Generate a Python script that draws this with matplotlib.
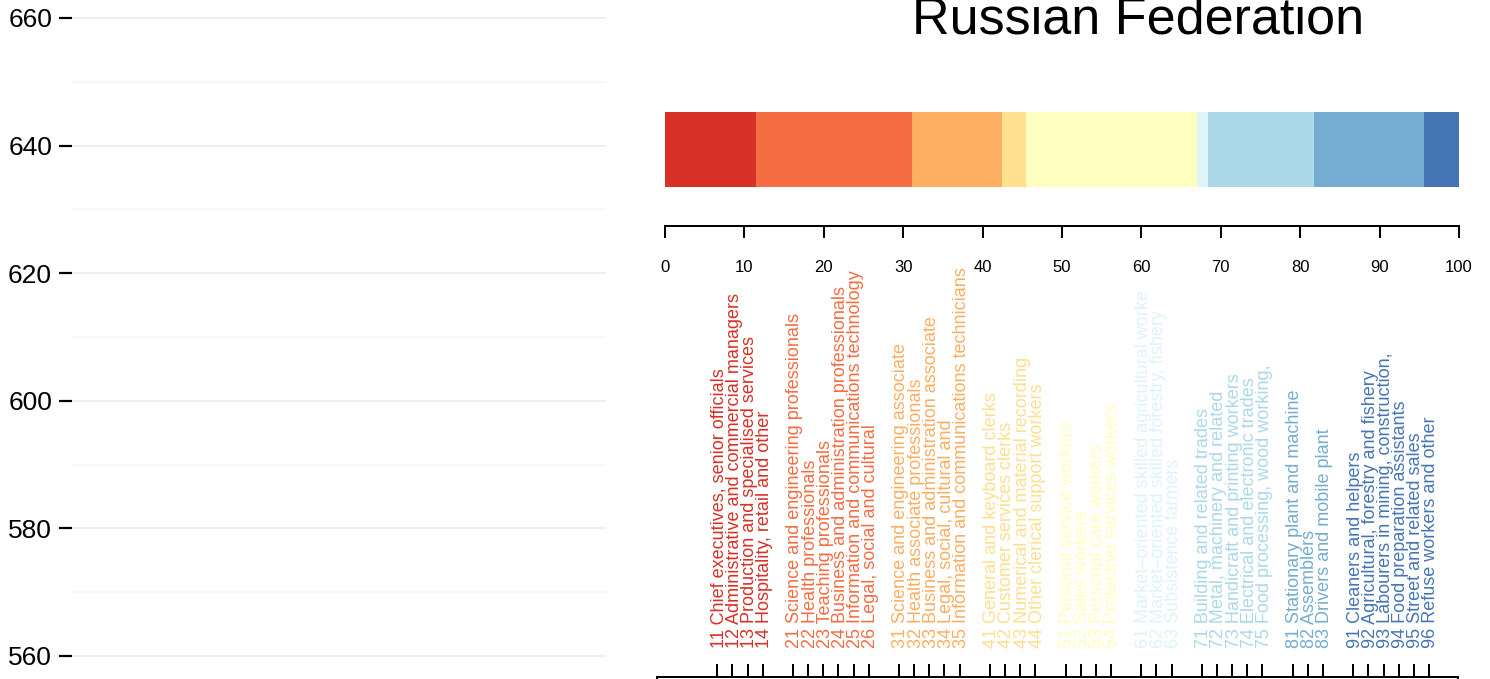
"""
Occupation structure bar for one country, with ISCO sub-major group labels
"""
import matplotlib
matplotlib.use('Agg')
import matplotlib.pyplot as plt
from matplotlib.transforms import blended_transform_factory
import numpy as np

plt.rcParams['font.family'] = ['Liberation Sans', 'DejaVu Sans']

W, H = 1490, 679

# --- data ---
country = 'Russian Federation'
left_ticks = [560, 580, 600, 620, 640, 660]
left_minor = [570, 590, 610, 630, 650]
pct_ticks = [0, 10, 20, 30, 40, 50, 60, 70, 80, 90, 100]

major_groups = [1, 2, 3, 4, 5, 6, 7, 8, 9]
group_share = [11.5, 19.6, 11.3, 3.1, 21.5, 1.4, 13.3, 13.9, 4.4]
group_colors = ['#D73027', '#F46D43', '#FDAE61', '#FEE090', '#FFFFBF',
                '#E0F3F8', '#ABD9E9', '#74ADD1', '#4575B4']

sub_codes = [11, 12, 13, 14,
             21, 22, 23, 24, 25, 26,
             31, 32, 33, 34, 35,
             41, 42, 43, 44,
             51, 52, 53, 54,
             61, 62, 63,
             71, 72, 73, 74, 75,
             81, 82, 83,
             91, 92, 93, 94, 95, 96]
sub_labels = [
    'Chief executives, senior officials',
    'Administrative and commercial managers',
    'Production and specialised services',
    'Hospitality, retail and other',
    'Science and engineering professionals',
    'Health professionals',
    'Teaching professionals',
    'Business and administration professionals',
    'Information and communications technology',
    'Legal, social and cultural',
    'Science and engineering associate',
    'Health associate professionals',
    'Business and administration associate',
    'Legal, social, cultural and',
    'Information and communications technicians',
    'General and keyboard clerks',
    'Customer services clerks',
    'Numerical and material recording',
    'Other clerical support workers',
    'Personal service workers',
    'Sales workers',
    'Personal care workers',
    'Protective services workers',
    'Market\u2013oriented skilled agricultural worke',
    'Market\u2013oriented skilled forestry, fishery',
    'Subsistence farmers',
    'Building and related trades',
    'Metal, machinery and related',
    'Handicraft and printing workers',
    'Electrical and electronic trades',
    'Food processing, wood working,',
    'Stationary plant and machine',
    'Assemblers',
    'Drivers and mobile plant',
    'Cleaners and helpers',
    'Agricultural, forestry and fishery',
    'Labourers in mining, construction,',
    'Food preparation assistants',
    'Street and related sales',
    'Refuse workers and other',
]


def fx(px):
    return px / W


def fy(py):
    return 1 - py / H


PT = 72 / 100  # points per pixel at dpi 100

fig = plt.figure(figsize=(W / 100, H / 100), dpi=100)

# --- left panel: empty score axis with grid ---
axl = fig.add_axes([fx(72), 0, fx(606) - fx(72), 1])
axl.set_xlim(0, 1)
axl.set_ylim(556.39, 662.82)
axl.set_yticks(left_ticks)
axl.set_yticks(left_minor, minor=True)
axl.set_xticks([])
for s in axl.spines.values():
    s.set_visible(False)
axl.grid(which='major', axis='y', color='#EBEBEB', lw=1.1)
axl.grid(which='minor', axis='y', color='#F7F7F7', lw=1.6)
axl.tick_params(axis='y', which='major', length=13 * PT, width=2.2 * PT,
                pad=7 * PT, labelsize=19, color='black')
axl.tick_params(axis='y', which='minor', length=0)

# --- stacked bar of major groups ---
axb = fig.add_axes([fx(665), fy(226), fx(1459) - fx(665), fy(112) - fy(226)])
lefts = np.concatenate([[0], np.cumsum(group_share)[:-1]])
axb.barh(0.5, group_share, left=lefts, height=1, color=group_colors,
         edgecolor='none')
axb.set_xlim(0, 100)
axb.set_ylim(-0.52, 1)
for k in ['top', 'left', 'right']:
    axb.spines[k].set_visible(False)
axb.spines['bottom'].set_linewidth(2 * PT)
axb.set_yticks([])
axb.set_xticks(pct_ticks)
axb.tick_params(axis='x', length=12 * PT, width=2 * PT, pad=22 * PT,
                labelsize=12)

# title sits right of the bar centre in the original
fig.text(fx(1138), fy(34), country, fontsize=37.5, ha='center',
         va='baseline')

# --- sub-major group labels and bottom axis ---
slots = []
pos = 0
prev = None
for code in sub_codes:
    g = code // 10
    if prev is not None and g != prev:
        pos += 1
    slots.append(pos)
    pos += 1
    prev = g

axs = fig.add_axes([fx(657), fy(740), fx(1458) - fx(657), fy(677) - fy(740)])
axs.set_xlim(-3.98, 48.92)
axs.set_ylim(0, 1)
axs.spines['bottom'].set_visible(False)
for k in ['top', 'left', 'right']:
    axs.spines[k].set_linewidth(2 * PT)
axs.set_yticks([])
axs.xaxis.set_ticks_position('top')
axs.set_xticks(slots)
axs.set_xticklabels([])
axs.tick_params(axis='x', length=13 * PT, width=2 * PT, direction='out')

trans = blended_transform_factory(axs.transData, fig.transFigure)
for x, code, lab in zip(slots, sub_codes, sub_labels):
    col = group_colors[major_groups.index(code // 10)]
    axs.text(x, fy(648), f'{code} {lab}', transform=trans, rotation=90,
             rotation_mode='anchor', ha='left', va='center_baseline',
             color=col, fontsize=13, clip_on=False)

fig.savefig('out.png', dpi=100)
